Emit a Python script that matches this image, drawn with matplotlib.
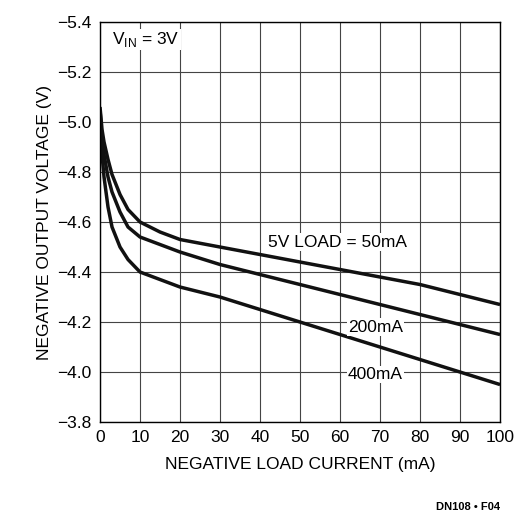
import matplotlib
matplotlib.use('Agg')
import matplotlib.pyplot as plt

plt.rcParams['font.family'] = ['Liberation Sans', 'DejaVu Sans']

current = [0, 0.5, 1, 2, 3, 5, 7, 10, 15, 20, 30, 40, 50, 60, 70, 80, 90, 100]
v_50 = [-5.06, -4.97, -4.92, -4.85, -4.79, -4.71, -4.65, -4.60, -4.56, -4.53, -4.50, -4.47, -4.44, -4.41, -4.38, -4.35, -4.31, -4.27]
v_200 = [-5.05, -4.93, -4.87, -4.78, -4.72, -4.64, -4.58, -4.54, -4.51, -4.48, -4.43, -4.39, -4.35, -4.31, -4.27, -4.23, -4.19, -4.15]
v_400 = [-5.04, -4.87, -4.78, -4.66, -4.58, -4.50, -4.45, -4.40, -4.37, -4.34, -4.30, -4.25, -4.20, -4.15, -4.10, -4.05, -4.00, -3.95]

fig = plt.figure(figsize=(5.32, 5.23), dpi=100)
ax = fig.add_axes([0.188, 0.193, 0.752, 0.765])
for v in (v_50, v_200, v_400):
    ax.plot(current, v, color='#111111', lw=2.5, solid_capstyle='butt')

ax.set_xlim(0, 100)
ax.set_ylim(-3.8, -5.4)
ax.set_xticks(range(0, 101, 10))
ax.set_yticks([-3.8, -4.0, -4.2, -4.4, -4.6, -4.8, -5.0, -5.2, -5.4])
ax.set_yticklabels(['−3.8', '−4.0', '−4.2', '−4.4', '−4.6', '−4.8', '−5.0', '−5.2', '−5.4'])
ax.grid(True, color='#444444', lw=0.8)
ax.tick_params(length=0, labelsize=12.5, pad=6)
for s in ax.spines.values():
    s.set_linewidth(1.0)

ax.set_xlabel('NEGATIVE LOAD CURRENT (mA)', fontsize=12.5, labelpad=8)
ax.set_ylabel('NEGATIVE OUTPUT VOLTAGE (V)', fontsize=12.5)

ax.text(3, -5.33, 'V$_{\\mathregular{IN}}$ = 3V', fontsize=12.5, va='center',
        bbox=dict(facecolor='white', edgecolor='none', pad=1))
ax.text(42, -4.52, '5V LOAD = 50mA', fontsize=12.5, va='center',
        bbox=dict(facecolor='white', edgecolor='none', pad=1))
ax.text(62, -4.18, '200mA', fontsize=12.5, va='center',
        bbox=dict(facecolor='white', edgecolor='none', pad=1))
ax.text(62, -3.99, '400mA', fontsize=12.5, va='center',
        bbox=dict(facecolor='white', edgecolor='none', pad=1))

fig.text(0.94, 0.025, 'DN108 • F04', fontsize=8, fontweight='bold', ha='right')

fig.savefig('out.png', dpi=100)
